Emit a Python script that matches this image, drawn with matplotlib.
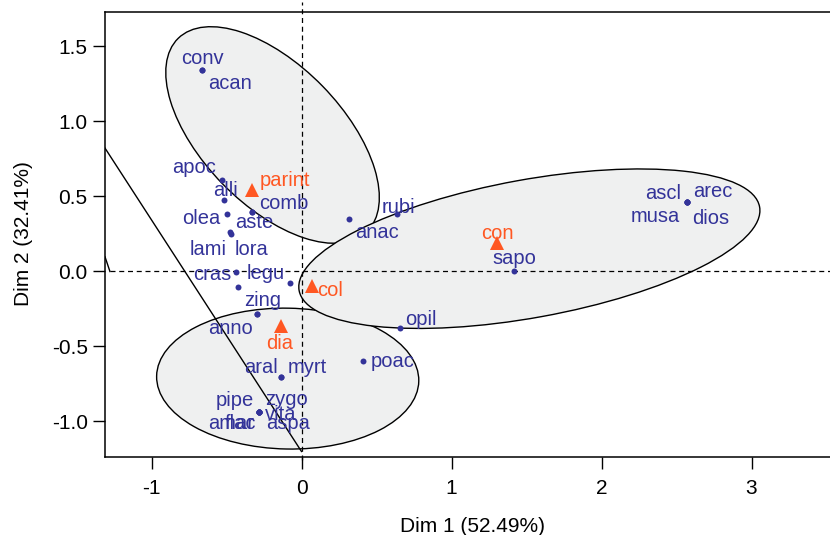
import numpy as np
import matplotlib
matplotlib.use('Agg')
import matplotlib.pyplot as plt
from matplotlib.patches import Ellipse

plt.rcParams['font.family'] = ['Liberation Sans', 'DejaVu Sans']

# ---------------- data ----------------
labels = ['conv', 'acan', 'apoc', 'alli', 'olea', 'lami', 'lora', 'comb', 'aste',
          'anac', 'rubi', 'sapo', 'ascl', 'arec', 'musa', 'dios', 'opil', 'cras',
          '', 'legu', 'zing', 'anno', 'poac', 'aral', 'myrt',
          'pipe', 'zygo', 'vita', 'aspa', 'amar', 'flac']
dim1 = [-0.665, -0.665, -0.532, -0.515, -0.499, -0.477, -0.467, -0.332, -0.332,
        0.317, 0.639, 1.417, 2.568, 2.568, 2.568, 2.568, 0.657, -0.437,
        -0.421, -0.077, -0.299, -0.299, 0.412, -0.139, -0.139,
        -0.281, -0.281, -0.281, -0.281, -0.281, -0.281]
dim2 = [1.343, 1.343, 0.610, 0.477, 0.383, 0.261, 0.250, 0.399, 0.399,
        0.348, 0.383, 0.005, 0.465, 0.465, 0.465, 0.465, -0.379, -0.005,
        -0.101, -0.079, -0.283, -0.283, -0.597, -0.701, -0.701,
        -0.939, -0.939, -0.939, -0.939, -0.939, -0.939]

groups = ['parint', 'con', 'col', 'dia']
grp_dim1 = [-0.330, 1.301, 0.068, -0.139]
grp_dim2 = [0.543, 0.192, -0.097, -0.363]

# confidence ellipses: centre, width, height, angle
ell_cx = [-0.193, -0.092, 1.519]
ell_cy = [0.910, -0.714, 0.152]
ell_w = [1.801, 1.748, 3.120]
ell_h = [0.932, 0.939, 0.920]
ell_ang = [-45.7, -1.1, 10.3]

x_ticks = [-1, 0, 1, 2, 3]
x_ticklabels = ['-1', '0', '1', '2', '3']
y_ticks = [-1.0, -0.5, 0.0, 0.5, 1.0, 1.5]
y_ticklabels = ['-1.0', '-0.5', '0.0', '0.5', '1.0', '1.5']

# ---------------- figure ----------------
W, H = 830, 535
fig = plt.figure(figsize=(W/100, H/100), dpi=100)
ax = fig.add_axes([105/W, (H-456.7)/H, (W-105)/W, (456.7-12)/H])
ax.set_xlim(-1.31, 3.5233)
ax.set_ylim(-1.2347, 1.73)

fill = '#EFF0F0'
for cx, cy, w_, h_, a_ in zip(ell_cx, ell_cy, ell_w, ell_h, ell_ang):
    ax.add_patch(Ellipse((cx, cy), w_, h_, angle=a_, facecolor=fill,
                         edgecolor='black', lw=1.0, zorder=1))

dash = (0, (4, 3))
ax.plot([-1.277, 3.6], [0, 0], color='black', lw=0.9, ls=dash, zorder=2)
ax.plot([0, 0], [-1.26, 1.8], color='black', lw=0.9, ls=dash, zorder=2, clip_on=False)
ax.plot([-1.5, 0.0], [1.116, -1.200], color='black', lw=1.0, zorder=2)
ax.plot([-1.31, -1.277], [0.098, 0.0], color='black', lw=1.0, zorder=2)

blue = '#333399'
orange = '#FF5722'
ax.plot(dim1, dim2, 'o', color=blue, ms=4.3, mew=0, zorder=3)
ax.plot(grp_dim1, grp_dim2, '^', color=orange, ms=9.5, mew=0, zorder=3)

# label offsets in pixels (dx, dy up)
offs = {'conv': (1, 6), 'acan': (28, -19), 'apoc': (-28, 7), 'alli': (1, 4), 'olea': (-25, -10),
        'lami': (-22, -23), 'lora': (20, -21), 'comb': (32, 3), 'aste': (3, -16),
        'anac': (28, -19), 'rubi': (1, 1), 'sapo': (0, 7), 'ascl': (-24, 3), 'arec': (26, 5),
        'musa': (-31, -20), 'dios': (24, -22), 'opil': (21, 3), 'cras': (-24, -8),
        'legu': (-24, 4), 'zing': (6, 8), 'anno': (-26, -20), 'poac': (29, -6),
        'aral': (-20, 4), 'myrt': (27, 4), 'pipe': (-25, 6), 'zygo': (27, 7),
        'vita': (21, -8), 'aspa': (29, -17), 'amar': (-28, -17), 'flac': (-19, -17)}
goffs = {'parint': (33, 4), 'con': (1, 4), 'col': (18, -10), 'dia': (-1, -23)}

fs = 14.5
for lab, x, y in zip(labels, dim1, dim2):
    if not lab:
        continue
    dx, dy = offs[lab]
    ax.annotate(lab, (x, y), xytext=(dx, dy), textcoords='offset pixels',
                ha='center', va='baseline', color=blue, fontsize=fs, zorder=4)
for lab, x, y in zip(groups, grp_dim1, grp_dim2):
    dx, dy = goffs[lab]
    ax.annotate(lab, (x, y), xytext=(dx, dy), textcoords='offset pixels',
                ha='center', va='baseline', color=orange, fontsize=fs, zorder=4)

ax.set_xticks(x_ticks)
ax.set_xticklabels(x_ticklabels)
ax.set_yticks(y_ticks)
ax.set_yticklabels(y_ticklabels)
ax.tick_params(axis='both', direction='out', length=8.5, width=1.0, labelsize=15, color='black')
ax.tick_params(axis='x', pad=7.5)
ax.tick_params(axis='y', pad=4.0)
ax.spines['right'].set_visible(False)
for s in ['left', 'top', 'bottom']:
    ax.spines[s].set_linewidth(1.1)

fig.text(472.8/W, (H-531.7)/H, 'Dim 1 (52.49%)', ha='center', va='baseline', fontsize=15)
fig.text(23.4/W, (H-234)/H, 'Dim 2 (32.41%)', ha='center', va='center', rotation=90, fontsize=15)

fig.savefig('out.png', dpi=100)
